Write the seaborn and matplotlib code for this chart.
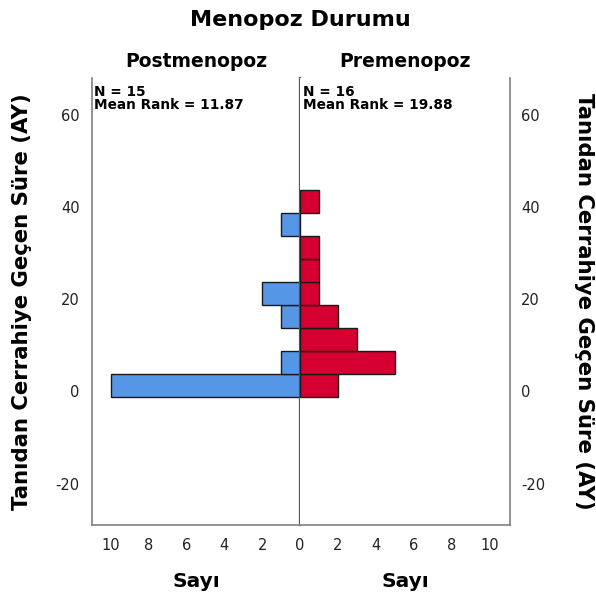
import numpy as np
import pandas as pd
import matplotlib
matplotlib.use("Agg")
import matplotlib.pyplot as plt
import seaborn as sns

# ---- data ----
bin_centers = [1.25, 6.25, 11.25, 16.25, 21.25, 26.25, 31.25, 36.25, 41.25]
post_counts = [10, 1, 0, 1, 2, 0, 0, 1, 0]   # Postmenopoz
pre_counts = [2, 5, 3, 2, 1, 1, 1, 0, 1]     # Premenopoz
group_names = ["Postmenopoz", "Premenopoz"]
group_stats = ["N = 15\nMean Rank = 11.87", "N = 16\nMean Rank = 19.88"]
y_ticks = [-20, 0, 20, 40, 60]
left_xticks = [10, 8, 6, 4, 2, 0]
right_xticks = [2, 4, 6, 8, 10]
title = "Menopoz Durumu"
y_label = "Tanıdan Cerrahiye Geçen Süre (AY)"
x_label = "Sayı"

bin_width = 5.0
edges = [c - bin_width / 2 for c in bin_centers] + [bin_centers[-1] + bin_width / 2]

df_post = pd.DataFrame({"y": bin_centers, "n": post_counts})
df_pre = pd.DataFrame({"y": bin_centers, "n": pre_counts})

sns.set_style("white")
plt.rcParams["font.family"] = ["DejaVu Sans"]
plt.rcParams["text.color"] = "black"
plt.rcParams["axes.labelcolor"] = "black"
plt.rcParams["axes.unicode_minus"] = False

fig = plt.figure(figsize=(5.96, 5.99), dpi=100)
W, H = 596, 599
left_px, mid_px, right_px = 92, 300, 510
top_px, bot_px = 78, 525
axL = fig.add_axes([left_px / W, 1 - bot_px / H, (mid_px - left_px) / W, (bot_px - top_px) / H])
axR = fig.add_axes([mid_px / W, 1 - bot_px / H, (right_px - mid_px) / W, (bot_px - top_px) / H], sharey=axL)

blue = "#5596E6"
red = "#D5002F"

sns.histplot(data=df_post, y="y", weights="n", bins=edges, ax=axL, color=blue,
             alpha=1, edgecolor="#1a1a1a", linewidth=1.0)
sns.histplot(data=df_pre, y="y", weights="n", bins=edges, ax=axR, color=red,
             alpha=1, edgecolor="#1a1a1a", linewidth=1.0)

ylim = (-29, 68)
axL.set_xlim(11, 0)
axR.set_xlim(0, 11.05)
axL.set_ylim(*ylim)

frame = "#808080"
for ax in (axL, axR):
    ax.spines["top"].set_visible(False)
    for s in ("left", "right", "bottom"):
        ax.spines[s].set_color(frame)
        ax.spines[s].set_linewidth(1.2)
    ax.set_xlabel(x_label, fontsize=14.5, fontweight="bold", labelpad=14)
    ax.set_ylabel("")
    ax.tick_params(axis="both", length=0, labelsize=10.5, labelcolor="#222222", pad=9)
axL.spines["right"].set_color("#555555")
axL.spines["right"].set_linewidth(1.6)
axR.spines["left"].set_visible(False)

axL.set_xticks(left_xticks)
axR.set_xticks(right_xticks)
axL.set_yticks(y_ticks)
axL.yaxis.set_tick_params(labelleft=True)
axR.yaxis.tick_right()
axR.tick_params(axis="y", labelright=True, labelleft=False, length=0, pad=8)

for ax, name, stat in zip((axL, axR), group_names, group_stats):
    ax.set_title(name, fontsize=13.5, fontweight="bold", pad=8)
    ax.text(0.012, 0.985, stat, transform=ax.transAxes, ha="left", va="top",
            fontsize=9.8, fontweight="bold", linespacing=0.92)

fig.text(mid_px / W, 1 - 20 / H, title, ha="center", va="center", fontsize=16, fontweight="bold")
ymid = 1 - (top_px + bot_px) / 2 / H
fig.text(22 / W, ymid, y_label, rotation=90, ha="center", va="center", fontsize=15.3, fontweight="bold")
fig.text(584 / W, ymid, y_label, rotation=270, ha="center", va="center", fontsize=15.3, fontweight="bold")

fig.savefig("out.png", dpi=100)
